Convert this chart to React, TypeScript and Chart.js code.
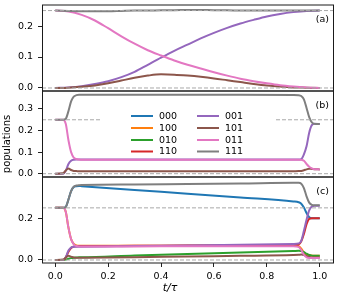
import React, { useEffect, useRef } from 'react';
import { Chart, registerables } from 'chart.js';

Chart.register(...registerables);

// ---- data ----
const seriesNames = ['000', '100', '010', '110', '001', '101', '011', '111'];
const seriesColors = ['#1f77b4', '#ff7f0e', '#2ca02c', '#d62728', '#9467bd', '#8c564b', '#e377c2', '#7f7f7f'];

const tA = [0, 0.05, 0.1, 0.15, 0.2, 0.25, 0.3, 0.35, 0.4, 0.45, 0.5, 0.55, 0.6, 0.65, 0.7, 0.75, 0.8, 0.85, 0.9, 0.95, 1.0];
const pop001A = [0, 0.002, 0.006, 0.013, 0.022, 0.035, 0.052, 0.075, 0.098, 0.12, 0.14, 0.16, 0.178, 0.194, 0.208, 0.22, 0.231, 0.239, 0.245, 0.249, 0.25];
const pop101A = [0, 0.001, 0.004, 0.008, 0.015, 0.024, 0.033, 0.04, 0.044, 0.043, 0.04, 0.036, 0.031, 0.025, 0.019, 0.013, 0.008, 0.005, 0.002, 0.001, 0];
const pop011A = [0.25, 0.247, 0.236, 0.218, 0.193, 0.167, 0.143, 0.122, 0.105, 0.089, 0.075, 0.063, 0.051, 0.04, 0.03, 0.022, 0.015, 0.009, 0.005, 0.002, 0.0];
const pop111A = [0.25, 0.249, 0.248, 0.248, 0.248, 0.249, 0.25, 0.25, 0.251, 0.251, 0.252, 0.252, 0.251, 0.251, 0.25, 0.25, 0.25, 0.25, 0.25, 0.25, 0.25];

const tBC = [0, 0.03, 0.04, 0.05, 0.06, 0.07, 0.08, 0.09, 0.1, 0.3, 0.5, 0.7, 0.9, 0.92, 0.93, 0.94, 0.95, 0.96, 0.97, 0.98, 1.0];

const pop001B = [0, 0, 0.015, 0.045, 0.06, 0.065, 0.066, 0.066, 0.066, 0.066, 0.066, 0.066, 0.066, 0.066, 0.068, 0.09, 0.127, 0.19, 0.225, 0.231, 0.23];
const pop101B = [0, 0.002, 0.015, 0.024, 0.017, 0.013, 0.012, 0.011, 0.011, 0.011, 0.011, 0.011, 0.011, 0.012, 0.013, 0.016, 0.02, 0.023, 0.022, 0.021, 0.02];
const pop011B = [0.25, 0.25, 0.23, 0.155, 0.1, 0.075, 0.068, 0.066, 0.065, 0.065, 0.065, 0.065, 0.065, 0.065, 0.064, 0.06, 0.045, 0.032, 0.025, 0.021, 0.02];
const pop111B = [0.25, 0.25, 0.255, 0.29, 0.335, 0.357, 0.364, 0.366, 0.366, 0.366, 0.366, 0.366, 0.365, 0.364, 0.36, 0.345, 0.305, 0.262, 0.238, 0.231, 0.23];

const pop000C = [0.25, 0.25, 0.255, 0.29, 0.33, 0.35, 0.354, 0.355, 0.354, 0.336, 0.318, 0.3, 0.281, 0.277, 0.27, 0.252, 0.225, 0.205, 0.2, 0.2, 0.2];
const pop100C = [0.25, 0.25, 0.23, 0.155, 0.1, 0.077, 0.07, 0.068, 0.068, 0.068, 0.068, 0.069, 0.07, 0.066, 0.055, 0.036, 0.026, 0.022, 0.021, 0.02, 0.02];
const pop010C = [0, 0, 0.002, 0.006, 0.009, 0.011, 0.012, 0.013, 0.013, 0.022, 0.029, 0.036, 0.043, 0.044, 0.043, 0.038, 0.03, 0.024, 0.021, 0.02, 0.02];
const pop110C = [0, 0, 0.012, 0.04, 0.058, 0.064, 0.066, 0.067, 0.067, 0.068, 0.069, 0.07, 0.072, 0.074, 0.09, 0.125, 0.172, 0.197, 0.2, 0.2, 0.2];
const pop001C = [0, 0, 0.015, 0.045, 0.06, 0.064, 0.064, 0.064, 0.064, 0.067, 0.07, 0.073, 0.077, 0.079, 0.092, 0.14, 0.193, 0.238, 0.256, 0.26, 0.26];
const pop101C = [0, 0.002, 0.012, 0.02, 0.016, 0.012, 0.011, 0.011, 0.011, 0.013, 0.017, 0.02, 0.024, 0.025, 0.026, 0.024, 0.018, 0.014, 0.012, 0.012, 0.012];
const pop011C = [0.25, 0.25, 0.23, 0.155, 0.1, 0.075, 0.067, 0.065, 0.065, 0.065, 0.066, 0.066, 0.066, 0.063, 0.048, 0.025, 0.013, 0.01, 0.01, 0.01, 0.01];
const pop111C = [0.25, 0.25, 0.255, 0.29, 0.33, 0.352, 0.357, 0.359, 0.36, 0.362, 0.365, 0.367, 0.37, 0.37, 0.366, 0.345, 0.305, 0.275, 0.264, 0.262, 0.262];

const refLevels = [0, 0.25];
const xRange = [-0.05, 1.05];
const xTicks = [0, 0.2, 0.4, 0.6, 0.8, 1.0];
const yRangeA = [-0.0097, 0.268];
const yRangeB = [-0.0153, 0.3834];
const yRangeC = [-0.0144, 0.398];
const yTicksA = [0, 0.1, 0.2];
const yTicksB = [0, 0.1, 0.2, 0.3];
const yTicksC = [0, 0.2];
const panelLabels = ['(a)', '(b)', '(c)'];
const xTitle = 't/τ';
const yTitle = 'populations';

type Panel = {
  t: number[];
  series: { name: string; values: number[] }[];
  yRange: number[];
  yTicks: number[];
  label: string;
  padTop: number;
  padBottom: number;
  showX: boolean;
  legend: boolean;
  yTitle: boolean;
};

const panels: Panel[] = [
  {
    t: tA,
    series: [
      { name: '001', values: pop001A },
      { name: '101', values: pop101A },
      { name: '011', values: pop011A },
      { name: '111', values: pop111A },
    ],
    yRange: yRangeA, yTicks: yTicksA, label: panelLabels[0],
    padTop: 5, padBottom: 209, showX: false, legend: false, yTitle: false,
  },
  {
    t: tBC,
    series: [
      { name: '001', values: pop001B },
      { name: '101', values: pop101B },
      { name: '011', values: pop011B },
      { name: '111', values: pop111B },
    ],
    yRange: yRangeB, yTicks: yTicksB, label: panelLabels[1],
    padTop: 91, padBottom: 123, showX: false, legend: true, yTitle: true,
  },
  {
    t: tBC,
    series: [
      { name: '000', values: pop000C },
      { name: '100', values: pop100C },
      { name: '010', values: pop010C },
      { name: '110', values: pop110C },
      { name: '001', values: pop001C },
      { name: '101', values: pop101C },
      { name: '011', values: pop011C },
      { name: '111', values: pop111C },
    ],
    yRange: yRangeC, yTicks: yTicksC, label: panelLabels[2],
    padTop: 177, padBottom: 0, showX: true, legend: false, yTitle: false,
  },
];

const FONT = 'DejaVu Sans';
const TICK_SIZE = 9.5;

function colorOf(name: string) {
  return seriesColors[seriesNames.indexOf(name)];
}

function panelPlugin(p: Panel) {
  return {
    id: 'panelDecor',
    afterDraw(chart: any) {
      const { ctx, chartArea: a } = chart;
      ctx.save();
      if (p.legend) {
        ctx.fillStyle = '#ffffff';
        ctx.fillRect(101, 100, 174, 56);
        const rowsY = [116, 128, 140, 151.5];
        const cols = [
          { hx: 131, tx: 159, names: seriesNames.slice(0, 4) },
          { hx: 197, tx: 225, names: seriesNames.slice(4, 8) },
        ];
        ctx.font = `${TICK_SIZE}px "${FONT}"`;
        ctx.textAlign = 'left';
        ctx.textBaseline = 'middle';
        cols.forEach((c) => {
          c.names.forEach((n, r) => {
            ctx.strokeStyle = colorOf(n);
            ctx.lineWidth = 2;
            ctx.beginPath();
            ctx.moveTo(c.hx, rowsY[r]);
            ctx.lineTo(c.hx + 22, rowsY[r]);
            ctx.stroke();
            ctx.fillStyle = '#000';
            ctx.fillText(n, c.tx, rowsY[r] + 0.5);
          });
        });
      }
      ctx.strokeStyle = '#1a1a1a';
      ctx.lineWidth = 1;
      ctx.beginPath();
      ctx.moveTo(a.left + 0.5, a.top);
      ctx.lineTo(a.left + 0.5, a.bottom);
      ctx.moveTo(a.right + 0.5, a.top);
      ctx.lineTo(a.right + 0.5, a.bottom);
      ctx.moveTo(a.left, a.top);
      ctx.lineTo(a.right + 1, a.top);
      ctx.moveTo(a.left, a.bottom);
      ctx.lineTo(a.right + 1, a.bottom);
      ctx.stroke();
      ctx.fillStyle = '#000';
      ctx.font = `${TICK_SIZE}px "${FONT}"`;
      ctx.textAlign = 'right';
      ctx.textBaseline = 'middle';
      ctx.fillText(p.label, a.right - 4, a.top + 15);
      if (p.yTitle) {
        ctx.save();
        ctx.translate(7, 144);
        ctx.rotate(-Math.PI / 2);
        ctx.font = `10px "${FONT}"`;
        ctx.textAlign = 'center';
        ctx.textBaseline = 'middle';
        ctx.fillText(yTitle, 0, 0);
        ctx.restore();
      }
      if (p.showX) {
        ctx.font = `italic 11px "${FONT}"`;
        ctx.textAlign = 'center';
        ctx.textBaseline = 'middle';
        ctx.fillText(xTitle, 170, 288);
      }
      ctx.restore();
    },
  };
}

function buildConfig(p: Panel): any {
  const datasets: any[] = p.series.map((s, i) => ({
    label: s.name,
    data: p.t.map((x, k) => ({ x, y: s.values[k] })),
    borderColor: colorOf(s.name),
    backgroundColor: colorOf(s.name),
    borderWidth: 2,
    pointRadius: 0,
    fill: false,
    cubicInterpolationMode: 'monotone',
    order: -i,
  }));
  refLevels.forEach((lvl, j) => {
    datasets.push({
      label: 'ref' + j,
      data: [{ x: xRange[0], y: lvl }, { x: xRange[1], y: lvl }],
      borderColor: '#a8a8a8',
      borderWidth: 1,
      borderDash: [4, 2],
      pointRadius: 0,
      fill: false,
      order: -100 - j,
    });
  });
  return {
    type: 'line',
    data: { datasets },
    options: {
      responsive: false,
      animation: false,
      devicePixelRatio: 1,
      events: [],
      layout: { padding: { top: p.padTop, bottom: p.padBottom, left: 0, right: 7 } },
      plugins: { legend: { display: false }, tooltip: { enabled: false }, title: { display: false } },
      scales: {
        x: {
          type: 'linear',
          min: xRange[0],
          max: xRange[1],
          bounds: 'data',
          display: p.showX,
          afterBuildTicks: (s: any) => { s.ticks = xTicks.map((v) => ({ value: v })); },
          afterFit: (s: any) => {
            if (p.showX) s.height = 37;
            s.paddingLeft = 0; s.paddingRight = 0; s.paddingTop = 0; s.paddingBottom = 0;
          },
          grid: { drawOnChartArea: false, drawTicks: true, tickLength: 4, tickColor: '#222', tickWidth: 1 },
          border: { display: false },
          ticks: {
            autoSkip: false,
            maxRotation: 0,
            padding: 4,
            color: '#000',
            font: { family: FONT, size: TICK_SIZE },
            callback: (v: any) => Number(v).toFixed(1),
          },
        },
        y: {
          type: 'linear',
          min: p.yRange[0],
          max: p.yRange[1],
          bounds: 'data',
          afterBuildTicks: (s: any) => { s.ticks = p.yTicks.map((v) => ({ value: v })); },
          afterFit: (s: any) => {
            s.width = 42;
            s.paddingLeft = 0; s.paddingRight = 0; s.paddingTop = 0; s.paddingBottom = 0;
          },
          grid: { drawOnChartArea: false, drawTicks: true, tickLength: 4, tickColor: '#222', tickWidth: 1 },
          border: { display: false },
          ticks: {
            autoSkip: false,
            padding: 5,
            color: '#000',
            font: { family: FONT, size: TICK_SIZE },
            callback: (v: any) => Number(v).toFixed(1),
          },
        },
      },
    },
    plugins: [panelPlugin(p)],
  };
}

export default function App() {
  const refs = useRef<(HTMLCanvasElement | null)[]>([]);
  useEffect(() => {
    const charts = panels.map((p, i) => new Chart(refs.current[i] as HTMLCanvasElement, buildConfig(p)));
    return () => charts.forEach((c) => c.destroy());
  }, []);
  return (
    <div style={{ position: 'fixed', left: 0, top: 0, width: 340, height: 300, background: '#fff' }}>
      {panels.map((_, i) => (
        <canvas
          key={i}
          ref={(el) => { refs.current[i] = el; }}
          width={340}
          height={300}
          style={{ position: 'absolute', left: 0, top: 0, width: 340, height: 300 }}
        />
      ))}
    </div>
  );
}
